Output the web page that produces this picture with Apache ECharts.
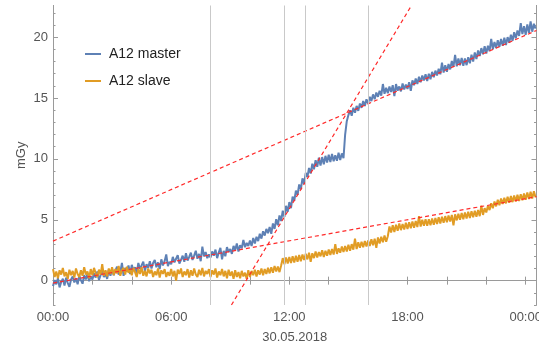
<!DOCTYPE html>
<html>
<head>
<meta charset="utf-8">
<script src="https://cdn.jsdelivr.net/npm/echarts@6/dist/echarts.min.js"></script>
<style>
  html, body { margin: 0; padding: 0; background: #fff; }
  #chart { width: 539px; height: 346px; }
</style>
</head>
<body>
<div id="chart"></div>
<script>
// samples every 5 minutes starting 30.05.2018 00:00 (x in hours), one row per hour
const STEP_H = 1 / 12;

const masterValues = [
  -0.45, 0.05, -0.30, 0.20, -0.55, -0.10, 0.15, -0.40, 0.25, -0.20, -0.50, 0.10,
  0.35, -0.15, 0.20, -0.30, 0.40, 0.05, -0.25, 0.45, 0.10, 0.55, -0.05, 0.35,
  0.10, 0.60, 0.25, 0.75, 0.05, 0.45, 0.85, 0.30, 0.55, 0.15, 0.90, 0.40,
  0.95, 0.45, 0.80, 1.15, 0.50, 0.70, 1.45, 0.40, 1.05, 0.75, 1.25, 0.55,
  1.30, 0.85, 1.10, 0.60, 1.45, 0.95, 1.25, 1.55, 0.80, 1.35, 1.05, 1.60,
  1.00, 1.45, 1.70, 1.10, 1.50, 0.95, 1.75, 1.25, 1.60, 2.15, 1.20, 1.55,
  1.35, 1.95, 1.50, 1.80, 2.10, 1.40, 1.70, 2.05, 1.55, 2.25, 1.65, 1.95,
  2.30, 1.70, 2.05, 2.45, 1.80, 2.20, 1.60, 2.80, 2.00, 2.35, 1.85, 2.15,
  1.90, 2.40, 2.05, 2.55, 1.85, 2.30, 2.70, 1.75, 2.45, 2.00, 2.75, 2.35,
  2.60, 2.20, 2.85, 2.50, 3.05, 2.40, 2.90, 2.65, 3.35, 2.75, 3.10, 2.85,
  3.30, 2.85, 3.50, 3.05, 3.60, 3.25, 3.85, 3.45, 4.05, 3.70, 4.25, 3.90,
  4.40, 3.85, 4.70, 4.25, 5.05, 4.55, 5.35, 4.90, 5.75, 5.25, 6.15, 5.65,
  6.45, 5.95, 6.90, 6.55, 7.40, 7.05, 7.90, 7.50, 8.40, 7.95, 8.85, 8.50,
  9.25, 8.80, 9.60, 9.15, 9.90, 9.35, 10.10, 9.45, 10.15, 9.55, 10.25, 9.70,
  10.35, 9.75, 10.40, 9.80, 10.30, 9.85, 10.50, 9.90, 10.45, 10.05, 12.00, 13.10,
  13.60, 14.00, 13.55, 14.20, 13.80, 14.35, 13.95, 14.55, 14.20, 14.75, 14.35, 14.90,
  14.55, 15.10, 14.75, 15.30, 14.90, 15.45, 15.10, 15.60, 15.20, 16.15, 15.35, 15.85,
  15.40, 15.95, 15.50, 16.05, 15.15, 16.15, 15.60, 15.95, 15.55, 16.20, 15.70, 16.10,
  15.75, 16.30, 15.60, 16.45, 16.05, 16.60, 16.15, 16.75, 16.30, 16.85, 16.45, 16.95,
  16.40, 17.00, 16.55, 17.15, 16.70, 17.25, 16.85, 17.40, 16.95, 17.90, 17.10, 17.70,
  17.15, 17.80, 17.35, 18.05, 17.55, 18.55, 17.60, 18.25, 17.70, 18.30, 17.65, 18.25,
  17.70, 18.35, 17.85, 18.55, 18.00, 18.75, 18.20, 18.90, 18.45, 19.10, 18.60, 19.25,
  18.65, 19.30, 18.85, 19.85, 19.00, 19.60, 19.10, 19.75, 19.20, 19.85, 19.30, 19.95,
  19.35, 20.00, 19.55, 20.20, 19.70, 20.40, 19.90, 20.55, 20.10, 21.15, 20.25, 20.90,
  20.20, 21.05, 20.35, 21.30, 20.45, 21.10, 20.70
];

const slaveValues = [
  0.95, 0.30, 0.75, 0.20, 0.85, 0.50, 1.05, 0.35, 0.70, 0.15, 0.90, 0.45,
  0.80, 0.25, 1.00, 0.55, 0.30, 0.85, 0.40, 1.10, 0.50, 0.75, 0.20, 0.95,
  0.45, 1.05, 0.60, 0.30, 0.90, 0.50, 1.35, 0.40, 0.85, 0.35, 1.00, 0.55,
  1.10, 0.45, 0.95, 0.60, 1.20, 0.40, 0.85, 1.05, 0.50, 1.15, 0.65, 0.95,
  0.45, 1.05, 0.70, 0.30, 0.95, 0.55, 1.10, 0.40, 0.80, 0.35, 1.00, 0.60,
  0.90, 0.30, 0.75, 0.45, 1.00, 0.25, 0.85, 0.55, 0.95, 0.30, 0.70, 0.40,
  0.95, 0.35, 0.80, 0.00, 0.90, 0.55, 1.00, 0.30, 0.75, 0.45, 0.95, 0.25,
  0.85, 0.40, 1.00, 0.50, 0.30, 0.90, 0.45, 1.05, 0.35, 0.80, 0.55, 0.95,
  0.30, 0.85, 0.50, 1.00, 0.25, 0.75, 0.45, 0.95, 0.35, 0.80, 0.20, 0.90,
  0.40, 0.75, 0.15, 0.85, 0.30, 0.70, 0.20, 0.80, 0.35, 0.65, 0.15, 0.85,
  0.30, 0.80, 0.45, 0.90, 0.35, 0.85, 0.50, 1.00, 0.45, 0.95, 0.55, 1.05,
  0.60, 1.10, 0.65, 1.20, 0.75, 1.15, 0.70, 1.25, 1.85, 1.35, 1.90, 1.40,
  1.95, 1.45, 2.00, 1.50, 2.05, 1.55, 2.10, 1.60, 2.15, 1.70, 2.20, 1.75,
  2.30, 1.55, 2.25, 1.85, 2.40, 1.90, 2.35, 2.00, 2.50, 1.95, 2.45, 2.05,
  2.55, 2.10, 2.60, 2.15, 3.00, 2.20, 2.65, 2.30, 2.80, 2.35, 2.85, 2.40,
  2.95, 2.45, 3.00, 2.55, 3.45, 2.60, 3.15, 2.70, 3.20, 2.75, 3.25, 2.80,
  3.30, 2.85, 3.40, 2.90, 3.45, 2.70, 3.55, 3.05, 3.60, 3.15, 3.70, 3.20,
  3.65, 4.45, 3.95, 4.55, 4.00, 4.60, 4.10, 4.70, 4.15, 4.65, 4.20, 4.75,
  4.25, 4.80, 4.30, 4.85, 4.35, 4.90, 4.40, 5.30, 4.45, 5.00, 4.50, 5.05,
  4.50, 5.05, 4.55, 5.10, 4.60, 5.15, 4.65, 5.20, 4.70, 5.25, 4.75, 5.30,
  4.80, 5.35, 4.85, 5.40, 4.55, 5.45, 4.95, 5.50, 5.00, 5.55, 5.05, 5.60,
  5.10, 5.65, 5.15, 5.70, 5.20, 5.75, 5.25, 5.80, 5.30, 6.15, 5.40, 5.95,
  5.60, 6.15, 5.80, 6.35, 5.95, 6.50, 6.10, 6.65, 6.20, 6.75, 6.30, 6.80,
  6.35, 6.90, 6.40, 6.95, 6.45, 7.00, 6.50, 7.05, 6.55, 7.10, 6.60, 7.15,
  6.65, 7.25, 6.70, 7.30, 6.75, 7.35, 6.85
];

// fitted lines, endpoints [hour, mGy]
const fitUpper = [[0, 3.25], [24.55, 20.55]];
const fitSteep = [[9.06, -2], [18.2, 22.6]];
const fitLower = [[0, -0.2], [24.55, 6.9]];

// marker times (hours)
const markHours = [8, 11.73, 12.83, 16];

const xLabelHours = [0, 6, 12, 18, 24];
const yLabelValues = [0, 5, 10, 15, 20];
const yMinorValues = [-2, -1, 0, 1, 2, 3, 4, 5, 6, 7, 8, 9, 10, 11, 12, 13, 14, 15, 16, 17, 18, 19, 20, 21, 22];

const X_MIN = 0, X_MAX = 24.55, Y_MIN = -2, Y_MAX = 22.6;
const FRAME = '#9a9a9a';
const LABEL = '#555';
const FONT = 'Liberation Sans, Arial, sans-serif';

const toPairs = (vals) => vals.map((v, i) => [i * STEP_H, v]);
const hhmm = (h) => String(h % 24).padStart(2, '0') + ':00';

const chart = echarts.init(document.getElementById('chart'));

const xBase = {
  type: 'value', min: X_MIN, max: X_MAX, interval: 2,
  axisLine: { lineStyle: { color: FRAME, width: 1 } },
  axisTick: { inside: true, length: 4, lineStyle: { color: FRAME } },
  splitLine: { show: false }
};
const yBase = {
  type: 'value', min: Y_MIN, max: Y_MAX,
  axisLine: { show: true, lineStyle: { color: FRAME, width: 1 } },
  splitLine: { show: false }
};

chart.setOption({
  animation: false,
  textStyle: { fontFamily: FONT },
  grid: { left: 53, right: 2.5, top: 5.5, bottom: 41, containLabel: false, outerBoundsMode: 'none' },
  legend: {
    data: ['A12 master', 'A12 slave'],
    orient: 'vertical',
    left: 85, top: 47, padding: 0,
    icon: 'rect', itemWidth: 16, itemHeight: 2,
    itemGap: 13,
    textStyle: { fontSize: 14, color: '#222', fontFamily: FONT, padding: [0, 0, 0, 3] }
  },
  xAxis: [
    Object.assign({}, xBase, {
      position: 'bottom',
      name: '30.05.2018', nameLocation: 'middle', nameGap: 26, nameMoveOverlap: false,
      nameTextStyle: { fontSize: 13, color: LABEL, fontFamily: FONT },
      axisLabel: {
        fontSize: 13, color: LABEL, margin: 6, fontFamily: FONT,
        showMaxLabel: false,
        formatter: (v) => xLabelHours.indexOf(v) >= 0 ? hhmm(v) : ''
      }
    }),
    Object.assign({}, xBase, { position: 'top', axisLabel: { show: false } })
  ],
  yAxis: [
    Object.assign({}, yBase, {
      position: 'left',
      name: 'mGy', nameLocation: 'middle', nameGap: 25, nameMoveOverlap: false,
      nameTextStyle: { fontSize: 13, color: LABEL, fontFamily: FONT },
      axisTick: { inside: true, length: 5, lineStyle: { color: FRAME }, customValues: yLabelValues },
      axisLabel: { fontSize: 13, color: LABEL, margin: 5, fontFamily: FONT, customValues: yLabelValues }
    }),
    Object.assign({}, yBase, {
      position: 'left',
      axisTick: { inside: true, length: 2.5, lineStyle: { color: FRAME }, customValues: yMinorValues },
      axisLabel: { show: false }
    }),
    Object.assign({}, yBase, {
      position: 'right',
      axisTick: { inside: true, length: 5, lineStyle: { color: FRAME }, customValues: yLabelValues },
      axisLabel: { show: false }
    }),
    Object.assign({}, yBase, {
      position: 'right',
      axisTick: { inside: true, length: 2.5, lineStyle: { color: FRAME }, customValues: yMinorValues },
      axisLabel: { show: false }
    })
  ],
  series: [
    {
      name: 'markers', type: 'line', data: [], z: 1, silent: true,
      markLine: {
        silent: true, symbol: 'none', label: { show: false },
        lineStyle: { color: '#c9c9c9', width: 1, type: 'solid' },
        data: markHours.map((h) => ({ xAxis: h }))
      }
    },
    {
      name: 'A12 master', type: 'line', data: toPairs(masterValues), z: 2,
      showSymbol: false, color: '#5E81B5',
      lineStyle: { width: 2, color: '#5E81B5' }
    },
    {
      name: 'A12 slave', type: 'line', data: toPairs(slaveValues), z: 3,
      showSymbol: false, color: '#E19C24',
      lineStyle: { width: 2, color: '#E19C24' }
    },
    ...[fitUpper, fitSteep, fitLower].map((d, k) => ({
      name: 'fit' + k, type: 'line', data: d, z: 4, silent: true,
      showSymbol: false,
      lineStyle: { color: '#ff2a2a', width: 1.2, type: [4, 3] }
    }))
  ]
});
</script>
</body>
</html>
